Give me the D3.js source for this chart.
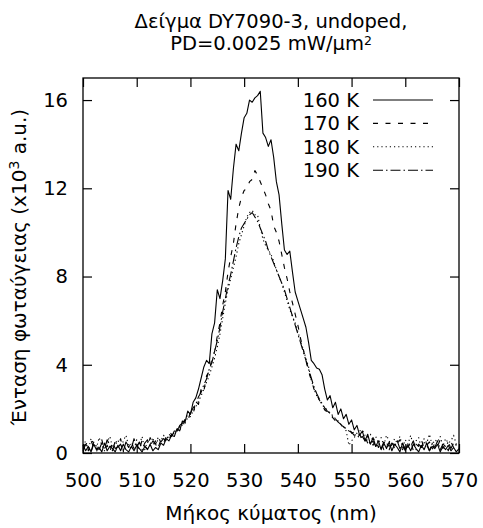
<!DOCTYPE html>
<html>
<head>
<meta charset="utf-8">
<script src="https://cdn.jsdelivr.net/npm/d3@7"></script>
<style>
  html, body { margin: 0; padding: 0; background: #fff; }
  svg { display: block; font-family: "DejaVu Sans", sans-serif; }
</style>
</head>
<body>
<svg id="chart" width="483" height="528"></svg>
<script>
// ---------------- DATA ----------------
const wavelengths = [
  500.0,500.5,501.0,501.5,502.0,502.5,503.0,503.5,504.0,504.5,
  505.0,505.5,506.0,506.5,507.0,507.5,508.0,508.5,509.0,509.5,
  510.0,510.5,511.0,511.5,512.0,512.5,513.0,513.5,514.0,514.5,
  515.0,515.5,516.0,516.5,517.0,517.5,518.0,518.5,519.0,519.5,
  520.0,520.5,521.0,521.5,522.0,522.5,523.0,523.5,524.0,524.5,
  525.0,525.5,526.0,526.5,527.0,527.5,528.0,528.5,529.0,529.5,
  530.0,530.5,531.0,531.5,532.0,532.5,533.0,533.5,534.0,534.5,
  535.0,535.5,536.0,536.5,537.0,537.5,538.0,538.5,539.0,539.5,
  540.0,540.5,541.0,541.5,542.0,542.5,543.0,543.5,544.0,544.5,
  545.0,545.5,546.0,546.5,547.0,547.5,548.0,548.5,549.0,549.5,
  550.0,550.5,551.0,551.5,552.0,552.5,553.0,553.5,554.0,554.5,
  555.0,555.5,556.0,556.5,557.0,557.5,558.0,558.5,559.0,559.5,
  560.0,560.5,561.0,561.5,562.0,562.5,563.0,563.5,564.0,564.5,
  565.0,565.5,566.0,566.5,567.0,567.5,568.0,568.5,569.0,569.5,
  570.0
];

const intensity160K = [
  0.35,0.10,0.30,0.05,0.40,0.15,0.25,0.05,0.45,0.10,
  0.30,0.20,0.05,0.35,0.10,0.40,0.15,0.05,0.30,0.10,
  0.35,0.20,0.05,0.30,0.15,0.40,0.10,0.25,0.15,0.45,
  0.35,0.65,0.55,0.80,0.75,1.10,1.00,1.45,1.40,1.90,
  1.75,2.30,2.50,2.90,3.40,3.90,4.20,4.05,5.40,5.90,
  7.40,7.00,7.80,8.80,11.90,11.50,12.90,14.00,13.70,14.50,
  15.20,15.40,16.00,15.90,16.10,16.20,16.40,14.50,14.30,13.90,
  14.20,13.40,12.30,11.70,10.40,9.20,9.00,9.15,8.20,7.30,
  6.90,6.50,6.10,5.70,5.00,4.20,4.05,3.85,3.80,3.55,
  2.90,2.40,2.60,2.05,2.30,1.75,2.00,1.55,1.75,1.30,
  1.50,1.05,1.25,0.80,1.00,0.55,0.85,0.40,0.70,0.30,
  0.55,0.15,0.45,0.20,0.50,0.10,0.40,0.25,0.05,0.45,
  0.15,0.35,0.10,0.40,0.20,0.05,0.35,0.15,0.45,0.10,
  0.30,0.20,0.40,0.05,0.30,0.15,0.35,0.10,0.25,0.05,
  0.20
];

const intensity170K = [
  0.20,0.45,0.10,0.55,0.25,0.05,0.40,0.60,0.15,0.35,
  0.05,0.50,0.20,0.30,0.65,0.10,0.45,0.25,0.55,0.15,
  0.40,0.10,0.60,0.30,0.20,0.70,0.35,0.55,0.25,0.60,
  0.45,0.75,0.60,0.85,0.80,1.05,1.20,1.10,1.55,1.45,
  1.85,1.75,2.35,2.20,2.95,2.80,3.50,3.70,4.30,4.60,
  5.30,5.90,6.70,7.30,8.20,8.90,9.50,10.40,11.10,11.60,
  11.90,12.00,12.30,12.40,12.80,12.60,12.30,12.00,11.70,11.30,
  11.00,10.30,10.00,9.60,9.00,8.40,7.90,7.30,6.80,6.30,
  5.80,5.20,4.70,4.20,3.70,3.30,2.90,2.65,2.40,2.20,
  1.95,1.85,1.70,1.60,1.45,1.40,1.25,1.20,1.05,1.10,
  0.90,0.95,0.75,0.85,0.60,0.70,0.45,0.55,0.35,0.60,
  0.25,0.50,0.15,0.45,0.30,0.55,0.20,0.40,0.60,0.15,
  0.45,0.25,0.55,0.10,0.40,0.30,0.60,0.20,0.35,0.50,
  0.15,0.45,0.30,0.60,0.20,0.40,0.10,0.50,0.25,0.40,
  0.30
];

const intensity180K = [
  0.30,0.55,0.15,0.65,0.40,0.20,0.70,0.35,0.10,0.50,
  0.75,0.25,0.45,0.60,0.15,0.55,0.80,0.30,0.45,0.20,
  0.60,0.35,0.75,0.15,0.50,0.40,0.70,0.30,0.65,0.55,
  0.80,0.60,0.70,0.95,0.85,1.10,1.00,1.30,1.35,1.60,
  1.65,1.90,2.10,2.35,2.60,2.90,3.20,3.50,3.90,4.30,
  4.80,5.40,6.10,6.80,7.40,7.90,8.40,8.90,9.50,9.90,
  10.30,10.70,10.90,11.00,10.80,10.80,10.20,9.70,9.40,9.20,
  9.00,8.70,8.30,8.00,7.70,7.30,6.90,6.50,6.20,5.90,
  5.50,5.10,4.70,4.30,3.90,3.30,2.90,2.60,2.40,2.20,
  2.05,1.95,1.80,1.70,1.55,1.45,1.30,1.20,1.00,0.35,
  0.55,0.70,0.90,1.00,1.05,0.80,0.70,0.85,0.55,0.75,
  0.45,0.70,0.35,0.80,0.55,0.30,0.65,0.45,0.75,0.25,
  0.60,0.40,0.80,0.35,0.55,0.70,0.20,0.65,0.45,0.85,
  0.35,0.60,0.50,0.75,0.30,0.65,0.45,0.55,0.80,0.40,
  0.50
];

const intensity190K = [
  0.10,0.40,0.25,0.05,0.50,0.30,0.15,0.45,0.20,0.60,
  0.35,0.10,0.55,0.25,0.40,0.05,0.50,0.30,0.20,0.65,
  0.25,0.50,0.15,0.45,0.60,0.30,0.55,0.40,0.70,0.50,
  0.65,0.55,0.85,0.75,1.00,0.95,1.25,1.35,1.50,1.75,
  1.80,2.05,2.20,2.55,2.75,3.10,3.35,3.80,4.10,4.60,
  5.10,5.70,6.40,7.00,7.60,8.10,8.70,9.30,9.80,10.20,
  10.40,10.60,10.80,10.90,10.70,10.50,10.20,9.90,9.60,9.20,
  8.90,8.60,8.30,8.00,7.70,7.40,7.00,6.60,6.20,5.80,
  5.40,5.00,4.60,4.20,3.80,3.40,3.00,2.70,2.45,2.25,
  2.05,1.90,1.80,1.65,1.55,1.40,1.30,1.20,1.10,1.00,
  0.95,0.80,0.85,0.65,0.75,0.55,0.60,0.40,0.55,0.30,
  0.45,0.20,0.50,0.35,0.15,0.45,0.30,0.55,0.20,0.40,
  0.10,0.45,0.30,0.55,0.15,0.40,0.25,0.50,0.35,0.10,
  0.45,0.25,0.55,0.15,0.40,0.30,0.50,0.20,0.45,0.35,
  0.25
];

const seriesNames = ["160 K", "170 K", "180 K", "190 K"];
const seriesValues = [intensity160K, intensity170K, intensity180K, intensity190K];
const seriesDash = [null, "5,7.5", "1.2,3", "10,3,1.5,3"];

const xTicks = [500, 510, 520, 530, 540, 550, 560, 570];
const yTicks = [0, 4, 8, 12, 16];
const xDomain = [500, 570];
const yDomain = [0, 17];

// ---------------- CHART ----------------
const svg = d3.select("#chart");
const L = 83, R = 459, T = 78, B = 453;

const x = d3.scaleLinear().domain(xDomain).range([L, R]);
const y = d3.scaleLinear().domain(yDomain).range([B, T]);

const fontTick = 19.5;

// Title (one text element, two lines)
const title = svg.append("text")
  .attr("text-anchor", "middle")
  .style("font-size", "19.5px");
title.append("tspan").attr("x", 271).attr("y", 28).text("Δείγμα DY7090-3, undoped,");
title.append("tspan").attr("x", 271).attr("y", 50).text("PD=0.0025 mW/μm");
title.append("tspan").attr("dy", -5.5).style("font-size", "12.5px").text("2");

// Bottom axis
const xAxisB = svg.append("g")
  .attr("transform", `translate(0,${B})`)
  .call(d3.axisBottom(x).tickValues(xTicks).tickSizeInner(-9).tickSizeOuter(0).tickPadding(20).tickFormat(d3.format("d")));
// Top axis (ticks only)
const xAxisT = svg.append("g")
  .attr("transform", `translate(0,${T})`)
  .call(d3.axisTop(x).tickValues(xTicks).tickSizeInner(-9).tickSizeOuter(0).tickFormat(""));
// Left axis
const yAxisL = svg.append("g")
  .attr("transform", `translate(${L},0)`)
  .call(d3.axisLeft(y).tickValues(yTicks).tickSizeInner(-9).tickSizeOuter(0).tickPadding(15).tickFormat(d3.format("d")));
// Right axis (ticks only)
const yAxisR = svg.append("g")
  .attr("transform", `translate(${R},0)`)
  .call(d3.axisRight(y).tickValues(yTicks).tickSizeInner(-9).tickSizeOuter(0).tickFormat(""));

[xAxisB, xAxisT, yAxisL, yAxisR].forEach(g => {
  g.select(".domain").remove();
  g.selectAll(".tick line").attr("stroke", "#000").attr("stroke-width", 1.2);
  g.selectAll(".tick text")
    .attr("fill", "#000")
    .style("font-family", "'DejaVu Sans', sans-serif")
    .style("font-size", fontTick + "px");
});

// Lines
const line = d3.line()
  .x((d, i) => x(wavelengths[i]))
  .y(d => y(d));

const linesG = svg.append("g");
seriesValues.forEach((vals, k) => {
  const p = linesG.append("path")
    .datum(vals)
    .attr("d", line)
    .attr("fill", "none")
    .attr("stroke", "#000")
    .attr("stroke-width", 1.1)
    .attr("stroke-linejoin", "round");
  if (seriesDash[k]) p.attr("stroke-dasharray", seriesDash[k]);
});

// Border
svg.append("rect")
  .attr("x", L).attr("y", T)
  .attr("width", R - L).attr("height", B - T)
  .attr("fill", "none").attr("stroke", "#000").attr("stroke-width", 1.3);

// Legend
const legend = svg.append("g");
seriesNames.forEach((name, k) => {
  const cy = 100 + k * 23.4;
  legend.append("text")
    .attr("x", 359).attr("y", cy + 7)
    .attr("text-anchor", "end")
    .style("font-size", "19.5px")
    .text(name);
  const ln = legend.append("line")
    .attr("x1", 373).attr("x2", 433)
    .attr("y1", cy).attr("y2", cy)
    .attr("stroke", "#000").attr("stroke-width", 1.1);
  if (seriesDash[k]) ln.attr("stroke-dasharray", seriesDash[k]);
});

// Axis labels
svg.append("text")
  .attr("x", 271).attr("y", 520)
  .attr("text-anchor", "middle")
  .style("font-size", "20px")
  .text("Μήκος κύματος (nm)");

const yl = svg.append("text")
  .attr("transform", "translate(26,267) rotate(-90)")
  .attr("text-anchor", "middle")
  .style("font-size", "20px");
yl.append("tspan").text("Ένταση φωταύγειας (x10");
yl.append("tspan").attr("dy", -7).style("font-size", "14px").text("3");
yl.append("tspan").attr("dy", 7).text(" a.u.)");
</script>
</body>
</html>
